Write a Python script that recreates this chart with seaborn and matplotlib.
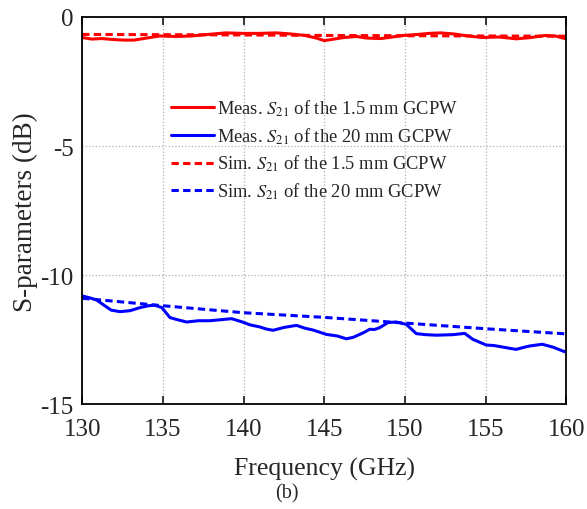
import numpy as np
import pandas as pd
import matplotlib.pyplot as plt
import seaborn as sns

freq_meas20 = [130.0, 130.5, 130.9, 131.4, 131.8, 132.35, 132.97, 133.6, 134.1, 134.5,
               134.93, 135.44, 135.9, 136.47, 137.2, 137.9, 138.6, 139.26, 139.88,
               140.4, 141.0, 141.4, 141.83, 142.5, 143.28, 143.8, 144.3, 145.13,
               145.8, 146.37, 146.8, 147.19, 147.5, 147.81, 148.1, 148.43, 148.94,
               149.46, 150.08, 150.7, 151.3, 151.94, 152.95, 153.7, 154.2, 155.03,
               155.5, 156.06, 156.88, 157.3, 157.7, 158.5, 159.15, 159.94]
s21_meas20 = [-10.80, -10.88, -10.96, -11.18, -11.35, -11.41, -11.37, -11.25, -11.18, -11.16,
              -11.25, -11.64, -11.72, -11.81, -11.76, -11.76, -11.72, -11.68, -11.80,
              -11.92, -12.00, -12.08, -12.13, -12.02, -11.94, -12.05, -12.12, -12.29,
              -12.35, -12.46, -12.40, -12.29, -12.20, -12.09, -12.10, -12.03, -11.83,
              -11.81, -11.90, -12.26, -12.30, -12.32, -12.30, -12.25, -12.48, -12.70,
              -12.72, -12.78, -12.87, -12.80, -12.74, -12.67, -12.78, -12.97]

# Simulated S21, 20 mm line
freq_sim20 = [130, 135, 140, 145, 150, 155, 160]
s21_sim20 = [-10.89, -11.18, -11.45, -11.63, -11.85, -12.07, -12.27]

# Measured S21, 1.5 mm line
freq_meas15 = [130.0, 130.6, 131.2, 132.0, 132.6, 133.2, 133.8, 134.8, 135.8, 136.8,
               137.8, 138.9, 140.0, 141.0, 142.0, 142.9, 143.8, 144.5, 145.0, 145.6,
               146.2, 147.0, 147.6, 148.5, 149.2, 149.9, 150.8, 151.5, 152.2, 153.0,
               153.9, 154.8, 155.8, 156.9, 157.8, 158.7, 159.3, 159.9]
s21_meas15 = [-0.80, -0.86, -0.84, -0.88, -0.90, -0.90, -0.84, -0.74, -0.76, -0.74,
              -0.68, -0.62, -0.64, -0.64, -0.62, -0.66, -0.72, -0.82, -0.92, -0.86,
              -0.80, -0.76, -0.82, -0.84, -0.78, -0.72, -0.68, -0.64, -0.62, -0.66,
              -0.74, -0.80, -0.78, -0.85, -0.80, -0.72, -0.74, -0.84]

# Simulated S21, 1.5 mm line
freq_sim15 = [130, 135, 140, 145, 150, 155, 160]
s21_sim15 = [-0.68, -0.69, -0.70, -0.72, -0.73, -0.74, -0.75]

sns.set_style("ticks")
plt.rcParams["font.family"] = ["Liberation Serif", "DejaVu Serif"]
plt.rcParams["mathtext.fontset"] = "stix"
plt.rcParams["axes.unicode_minus"] = False

fig, ax = plt.subplots(figsize=(5.87, 5.10), dpi=100)

lw = 2.2
dash = (0, (2.4, 1.4))
sns.lineplot(x=freq_meas15, y=s21_meas15, color="#ff0000", lw=lw, ax=ax,
             label=r"Meas. $S_{21}$ of the 1.5 mm GCPW")
sns.lineplot(x=freq_meas20, y=s21_meas20, color="#0000ff", lw=lw, ax=ax,
             label=r"Meas. $S_{21}$ of the 20 mm GCPW")
sns.lineplot(x=freq_sim15, y=s21_sim15, color="#ff0000", lw=lw, ls=dash, ax=ax,
             label=r"Sim. $S_{21}$ of the 1.5 mm GCPW")
sns.lineplot(x=freq_sim20, y=s21_sim20, color="#0000ff", lw=lw, ls=dash, ax=ax,
             label=r"Sim. $S_{21}$ of the 20 mm GCPW")

ax.set_xlim(130, 160)
ax.set_ylim(-15, 0)
ax.set_xticks([130, 135, 140, 145, 150, 155, 160])
ax.set_yticks([-15, -10, -5, 0])
ax.grid(True, ls=":", color="#b0b0b0", lw=0.9)
for s in ax.spines.values():
    s.set_visible(True)
    s.set_color("black")
    s.set_linewidth(1.3)
ax.tick_params(axis="x", direction="in", top=True, labelsize=18, length=6, width=1.3, pad=10)
ax.tick_params(axis="y", direction="in", labelsize=18, length=0, pad=6)

ax.set_xlabel("Frequency (GHz)", fontsize=18.5, labelpad=12)
ax.set_ylabel("S-parameters (dB)", fontsize=19.5, labelpad=2)

leg = ax.legend(loc="upper left", bbox_to_anchor=(0.15, 0.835), frameon=False,
                fontsize=13.3, handlelength=2.3, handletextpad=0.15, labelspacing=0.4)

fig.text(0.488, 0.012, "(b)", ha="center", va="bottom", fontsize=14.5,
         family=["Liberation Serif", "DejaVu Serif"])

fig.subplots_adjust(left=0.14, right=0.965, top=0.965, bottom=0.205)
fig.savefig("out.png", dpi=100)
